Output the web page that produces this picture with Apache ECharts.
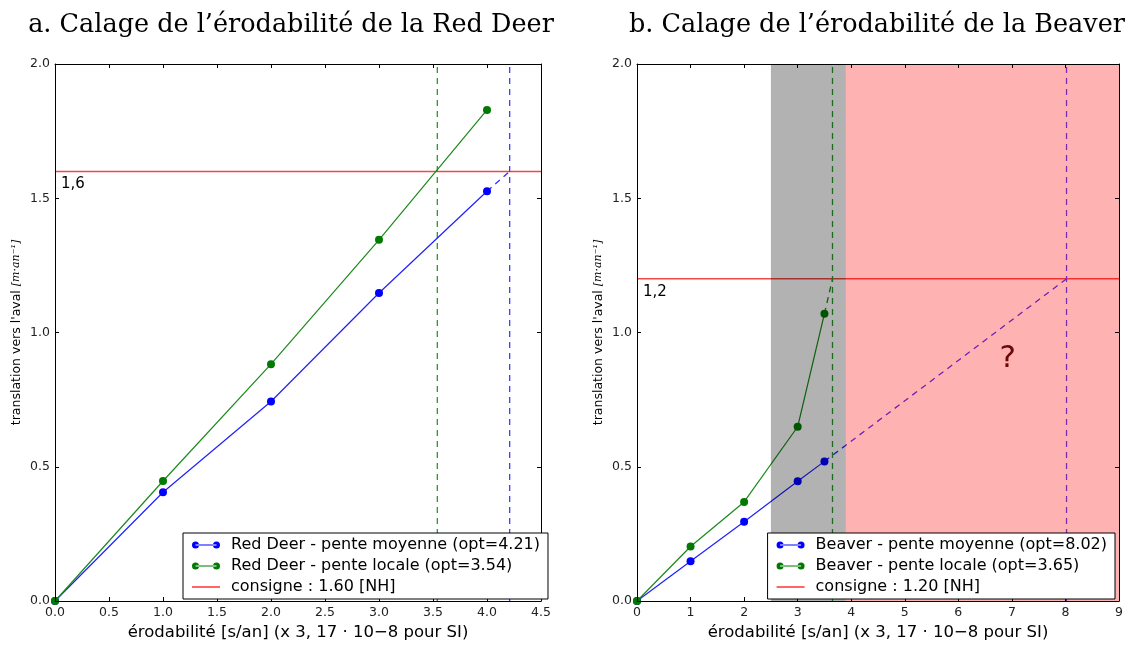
<!DOCTYPE html>
<html>
<head>
<meta charset="utf-8">
<script src="https://cdn.jsdelivr.net/npm/echarts@6/dist/echarts.min.js"></script>
<style>
  html, body { margin: 0; padding: 0; background: #fff; }
  #chart { width: 1126px; height: 646px; }
</style>
</head>
<body>
<div id="chart"></div>
<script>
// --- données ---
// a. Red Deer
var erodA = [0, 1, 2, 3, 4];
var redDeerMoy = [0, 0.405, 0.743, 1.147, 1.526];
var redDeerLoc = [0, 0.447, 0.882, 1.345, 1.829];
var optMoyA = 4.21, optLocA = 3.54, consigneA = 1.6;
var xTicksA = { min: 0, max: 4.5, interval: 0.5 };

// b. Beaver
var erodB = [0, 1, 2, 3, 3.5];
var beaverMoy = [0, 0.148, 0.295, 0.446, 0.52];
var beaverLoc = [0, 0.203, 0.369, 0.649, 1.07];
var optMoyB = 8.02, optLocB = 3.65, consigneB = 1.2;
var xTicksB = { min: 0, max: 9, interval: 1 };
var bandsB = [[2.5, 3.9], [3.9, 9]];   // zone grise, zone rouge

var yTicks = { min: 0, max: 2, interval: 0.5 };

var BLUE = '#0000ff', GREEN = '#007a00', RED = '#f04848';
var tickFont = 'DejaVu Sans';

function pairs(xs, ys) {
    return xs.map(function (x, i) { return [x, ys[i]]; });
}
function last(a) { return a[a.length - 1]; }
function oneDec(v) { return v.toFixed(1); }
function noDec(v) { return String(v); }

var legendIconPts = 'path://M0,5a3.5,3.5 0 1,0 7,0a3.5,3.5 0 1,0 -7,0zM3.5,4.5h21v1h-21zM21,5a3.5,3.5 0 1,0 7,0a3.5,3.5 0 1,0 -7,0z';
var legendIconLine = 'path://M0,0h28v1.2h-28z';

function makeAxes(gi, xt, xfmt) {
    var common = {
        gridIndex: gi, type: 'value', z: 8,
        splitLine: { show: false },
        axisLine: { show: true, onZero: false, lineStyle: { color: '#000', width: 1 } },
        axisTick: { show: true, inside: true, length: 4, lineStyle: { color: '#000' } }
    };
    var xb = Object.assign({}, common, xt, {
        position: 'bottom',
        axisLabel: { fontFamily: tickFont, fontSize: 12.5, color: '#222', margin: 5, formatter: xfmt },
        name: 'érodabilité [s/an] (x 3, 17 · 10−8 pour SI)',
        nameLocation: 'middle', nameGap: 23,
        nameTextStyle: { fontFamily: tickFont, fontSize: 16.5, color: '#000' }
    });
    var xt2 = Object.assign({}, common, xt, { position: 'top', axisLabel: { show: false } });
    var yl = Object.assign({}, common, yTicks, {
        position: 'left',
        axisLabel: { fontFamily: tickFont, fontSize: 12.5, color: '#222', margin: 5, formatter: oneDec },
        name: "translation vers l'aval {m|[m·an⁻¹]}",
        nameLocation: 'middle', nameGap: 32,
        nameTextStyle: {
            fontFamily: tickFont, fontSize: 12.5, color: '#000',
            rich: { m: { fontFamily: 'DejaVu Serif', fontStyle: 'italic', fontSize: 11, color: '#000' } }
        }
    });
    var yr = Object.assign({}, common, yTicks, { position: 'right', axisLabel: { show: false } });
    return { x: [xb, xt2], y: [yl, yr] };
}

var axA = makeAxes(0, xTicksA, oneDec);
var axB = makeAxes(1, xTicksB, noDec);

function dataSeries(name, xi, xs, ys, col, lineCol) {
    return {
        name: name, type: 'line', xAxisIndex: xi, yAxisIndex: xi,
        data: pairs(xs, ys), symbol: 'circle', symbolSize: 8, z: 3,
        itemStyle: { color: col },
        lineStyle: { color: lineCol, width: 1.2 }
    };
}
function dashed(xi, pts, col, extra) {
    return Object.assign({
        type: 'line', xAxisIndex: xi, yAxisIndex: xi, data: pts,
        symbol: 'none', silent: true, z: 2,
        lineStyle: { color: col, width: 1.3, type: [6, 5] }
    }, extra || {});
}
function consigne(name, xi, c, xmax, label) {
    return {
        name: name, type: 'line', xAxisIndex: xi, yAxisIndex: xi,
        data: [[0, c], [xmax, c]], symbol: 'none', z: 2,
        itemStyle: { color: 'red' },
        lineStyle: { color: RED, width: 1.5 },
        markPoint: {
            symbol: 'circle', symbolSize: 0, silent: true,
            data: [{ coord: [0, c] }],
            label: { show: true, formatter: label, position: 'right', offset: [1, 13],
                     fontFamily: tickFont, fontSize: 15, color: '#000' }
        }
    };
}

var nameMoyA = 'Red Deer - pente moyenne (opt=4.21)';
var nameLocA = 'Red Deer - pente locale (opt=3.54)';
var nameConA = 'consigne : 1.60 [NH]';
var nameMoyB = 'Beaver - pente moyenne (opt=8.02)';
var nameLocB = 'Beaver - pente locale (opt=3.65)';
var nameConB = 'consigne : 1.20 [NH]';

var series = [
    // panneau a
    dataSeries(nameMoyA, 0, erodA, redDeerMoy, BLUE, '#2020ff'),
    dataSeries(nameLocA, 0, erodA, redDeerLoc, GREEN, '#1a8a1a'),
    consigne(nameConA, 0, consigneA, xTicksA.max, '1,6'),
    dashed(0, [[last(erodA), last(redDeerMoy)], [optMoyA, consigneA]], '#3030ff'),
    dashed(0, [[optMoyA, 0], [optMoyA, yTicks.max]], '#4040ff'),
    dashed(0, [[optLocA, 0], [optLocA, yTicks.max]], '#2a9a2a'),
    // panneau b
    dataSeries(nameMoyB, 2, erodB, beaverMoy, BLUE, '#2020ff'),
    dataSeries(nameLocB, 2, erodB, beaverLoc, GREEN, '#1a8a1a'),
    consigne(nameConB, 2, consigneB, xTicksB.max, '1,2'),
    dashed(2, [[last(erodB), last(beaverLoc)], [optLocB, consigneB]], '#1a8a1a'),
    dashed(2, [[last(erodB), last(beaverMoy)], [optMoyB, consigneB]], '#3030ff', {
        markPoint: {
            symbol: 'circle', symbolSize: 0, silent: true,
            data: [{ coord: [6.92, 0.9] }],
            label: { show: true, formatter: '?', position: 'inside',
                     fontFamily: tickFont, fontSize: 31, color: '#6a0808' }
        }
    }),
    dashed(2, [[optMoyB, 0], [optMoyB, yTicks.max]], '#4040ff'),
    dashed(2, [[optLocB, 0], [optLocB, yTicks.max]], '#2a9a2a'),
    {
        type: 'custom', xAxisIndex: 2, yAxisIndex: 2, z: 5, silent: true,
        data: bandsB,
        encode: { x: [0, 1] },
        renderItem: function (params, api) {
            var p0 = api.coord([api.value(0), yTicks.max]);
            var p1 = api.coord([api.value(1), yTicks.min]);
            var fills = ['rgba(0,0,0,0.3)', 'rgba(255,0,0,0.3)'];
            return {
                type: 'rect',
                shape: { x: p0[0], y: p0[1], width: p1[0] - p0[0], height: p1[1] - p0[1] },
                style: { fill: fills[params.dataIndex] }
            };
        }
    }
];

function legend(pos, names) {
    return Object.assign({
        orient: 'vertical', top: 533, z: 10,
        backgroundColor: '#fff', borderColor: '#000', borderWidth: 1,
        padding: [4, 8, 4, 9], itemGap: 5, itemWidth: 28, itemHeight: 8,
        selectedMode: false,
        textStyle: { fontFamily: tickFont, fontSize: 16, color: '#000', lineHeight: 16, padding: [0, 0, 0, 6] },
        data: [
            { name: names[0], icon: legendIconPts },
            { name: names[1], icon: legendIconPts },
            { name: names[2], icon: legendIconLine }
        ]
    }, pos);
}

var titleStyle = { fontFamily: 'DejaVu Serif', fontWeight: 'normal', fontSize: 25.5, color: '#000' };

var option = {
    animation: false,
    backgroundColor: '#fff',
    title: [
        { text: 'a. Calage de l’érodabilité de la Red Deer', left: 286, top: 7, textAlign: 'center', textStyle: titleStyle },
        { text: 'b. Calage de l’érodabilité de la Beaver', left: 872, top: 7, textAlign: 'center', textStyle: titleStyle }
    ],
    grid: [
        { left: 55, right: 585, top: 64, bottom: 37 },
        { left: 637, right: 4, top: 64, bottom: 37 }
    ],
    xAxis: axA.x.concat(axB.x),
    yAxis: axA.y.concat(axB.y),
    legend: [
        legend({ left: 183 }, [nameMoyA, nameLocA, nameConA]),
        legend({ right: 11 }, [nameMoyB, nameLocB, nameConB])
    ],
    series: series
};

// grille 0 -> axes 0,1 ; grille 1 -> axes 2,3
var chart = echarts.init(document.getElementById('chart'));
chart.setOption(option);
</script>
</body>
</html>
